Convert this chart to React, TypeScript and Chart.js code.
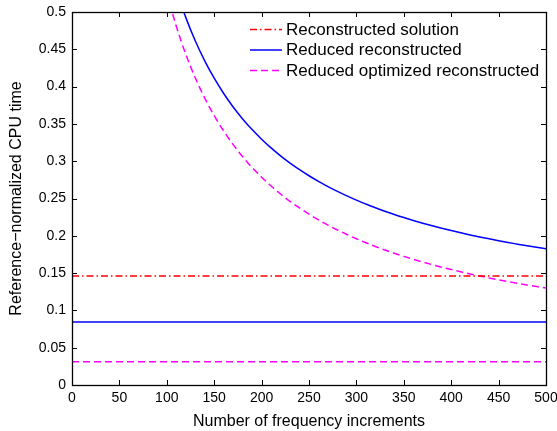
import React, { useEffect, useRef } from "react";
import { Chart, registerables } from "chart.js";

Chart.register(...registerables);

// Number of frequency increments (x) for the decaying curves
const freqIncrements = [
  100, 110, 120, 130, 140, 150, 160, 170, 180, 190, 200, 210, 220, 230, 240,
  250, 260, 270, 280, 290, 300, 310, 320, 330, 340, 350, 360, 370, 380, 390,
  400, 410, 420, 430, 440, 450, 460, 470, 480, 490, 500,
];

// Reduced reconstructed (blue solid curve)
const reducedReconstructed = [
  0.5745, 0.53, 0.4928, 0.4614, 0.4345, 0.4112, 0.3908, 0.3727, 0.3567, 0.3424,
  0.3295, 0.3178, 0.3072, 0.2975, 0.2887, 0.2805, 0.273, 0.266, 0.2595, 0.2535,
  0.2478, 0.2426, 0.2376, 0.233, 0.2286, 0.2245, 0.2206, 0.2169, 0.2134, 0.2101,
  0.207, 0.204, 0.2012, 0.1985, 0.1959, 0.1934, 0.191, 0.1888, 0.1866, 0.1845,
  0.1825,
];

// Reduced optimized reconstructed (magenta dashed curve)
const reducedOptimized = [
  0.526, 0.481, 0.4435, 0.4118, 0.3846, 0.361, 0.3404, 0.3222, 0.306, 0.2915,
  0.2785, 0.2667, 0.256, 0.2462, 0.2373, 0.229, 0.2214, 0.2143, 0.2078, 0.2017,
  0.196, 0.1907, 0.1857, 0.181, 0.1766, 0.1724, 0.1685, 0.1648, 0.1613, 0.1579,
  0.1548, 0.1517, 0.1489, 0.1461, 0.1435, 0.141, 0.1386, 0.1363, 0.1341, 0.132,
  0.13,
];

// Horizontal reference levels spanning the full x range
const levelX = [0, 500];
const reconstructedSolutionLevel = [0.146, 0.146];
const reducedReconstructedLevel = [0.0845, 0.0845];
const reducedOptimizedLevel = [0.031, 0.031];

const xTicks = [0, 50, 100, 150, 200, 250, 300, 350, 400, 450, 500];
const yTicks = [0, 0.05, 0.1, 0.15, 0.2, 0.25, 0.3, 0.35, 0.4, 0.45, 0.5];

const legendLabels = [
  "Reconstructed solution",
  "Reduced reconstructed",
  "Reduced optimized reconstructed",
];

const RED = "#ff0000";
const BLUE = "#0000ff";
const MAGENTA = "#ff00ff";
const DASH_DOT = [7, 3, 1.5, 3];
const DASHED = [7, 4];

const zip = (xs: number[], ys: number[]) => xs.map((x, i) => ({ x, y: ys[i] }));

const framePlugin = {
  id: "matlabFrame",
  afterDraw(chart: any) {
    const { ctx, chartArea } = chart;
    const { left, right, top, bottom } = chartArea;
    const xs = chart.scales.x;
    const ys = chart.scales.y;
    const tl = 5;
    ctx.save();
    ctx.strokeStyle = "#000";
    ctx.lineWidth = 1;
    ctx.beginPath();
    xTicks.forEach((v) => {
      const px = Math.round(xs.getPixelForValue(v)) + 0.5;
      ctx.moveTo(px, bottom);
      ctx.lineTo(px, bottom - tl);
      ctx.moveTo(px, top);
      ctx.lineTo(px, top + tl);
    });
    yTicks.forEach((v) => {
      const py = Math.round(ys.getPixelForValue(v)) + 0.5;
      ctx.moveTo(left, py);
      ctx.lineTo(left + tl, py);
      ctx.moveTo(right, py);
      ctx.lineTo(right - tl, py);
    });
    ctx.stroke();
    ctx.lineWidth = 1.3;
    ctx.strokeRect(Math.round(left) + 0.5, Math.round(top) + 0.5, Math.round(right - left), Math.round(bottom - top));

    // legend
    const styles = [
      { color: RED, dash: DASH_DOT },
      { color: BLUE, dash: [] as number[] },
      { color: MAGENTA, dash: DASHED },
    ];
    ctx.font = "17px 'Liberation Sans', Arial, sans-serif";
    ctx.textBaseline = "middle";
    ctx.textAlign = "left";
    legendLabels.forEach((label, i) => {
      const y = top + 17.5 + i * 20.5;
      const x0 = right - 296;
      const x1 = right - 264;
      ctx.strokeStyle = styles[i].color;
      ctx.lineWidth = 1.5;
      ctx.setLineDash(styles[i].dash);
      ctx.beginPath();
      ctx.moveTo(x0, y);
      ctx.lineTo(x1, y);
      ctx.stroke();
      ctx.setLineDash([]);
      ctx.fillStyle = "#000";
      ctx.fillText(label, right - 260, y + 0.5);
    });
    ctx.restore();
  },
};

export default function App() {
  const ref = useRef<HTMLCanvasElement>(null);
  useEffect(() => {
    const canvas = ref.current;
    if (!canvas) return;
    const tickFont = { family: "'Liberation Sans', Arial, sans-serif", size: 14 };
    const titleFont = { family: "'Liberation Sans', Arial, sans-serif", size: 16 };
    const chart = new Chart(canvas, {
      type: "line",
      data: {
        datasets: [
          {
            label: legendLabels[0],
            data: zip(levelX, reconstructedSolutionLevel),
            borderColor: RED,
            borderDash: DASH_DOT,
            borderWidth: 1.5,
            pointRadius: 0,
          },
          {
            label: legendLabels[1],
            data: zip(freqIncrements, reducedReconstructed),
            borderColor: BLUE,
            borderWidth: 1.5,
            pointRadius: 0,
            cubicInterpolationMode: "monotone",
          },
          {
            label: legendLabels[1] + " (level)",
            data: zip(levelX, reducedReconstructedLevel),
            borderColor: BLUE,
            borderWidth: 1.5,
            pointRadius: 0,
          },
          {
            label: legendLabels[2],
            data: zip(freqIncrements, reducedOptimized),
            borderColor: MAGENTA,
            borderDash: DASHED,
            borderWidth: 1.5,
            pointRadius: 0,
            cubicInterpolationMode: "monotone",
          },
          {
            label: legendLabels[2] + " (level)",
            data: zip(levelX, reducedOptimizedLevel),
            borderColor: MAGENTA,
            borderDash: DASHED,
            borderWidth: 1.5,
            pointRadius: 0,
          },
        ],
      },
      options: {
        animation: false,
        responsive: false,
        devicePixelRatio: 1,
        layout: { padding: { top: 12, right: 11, left: 0, bottom: 0 } },
        plugins: {
          legend: { display: false },
          tooltip: { enabled: false },
        },
        scales: {
          x: {
            type: "linear",
            min: 0,
            max: 500,
            grid: { display: false, drawTicks: false },
            border: { display: false },
            ticks: {
              stepSize: 50,
              color: "#000",
              font: tickFont,
              padding: 5,
              maxRotation: 0,
              callback: (v: any) => String(v),
            },
            title: {
              display: true,
              text: "Number of frequency increments",
              color: "#000",
              font: titleFont,
              padding: { top: 0, bottom: 0 },
            },
            afterFit: (s: any) => {
              s.height = 46;
              s.paddingLeft = 0;
              s.paddingRight = 0;
            },
          },
          y: {
            type: "linear",
            min: 0,
            max: 0.5,
            grid: { display: false, drawTicks: false },
            border: { display: false },
            ticks: {
              stepSize: 0.05,
              color: "#000",
              font: tickFont,
              padding: 6,
              callback: (v: any) => String(Number(Number(v).toFixed(2))),
            },
            title: {
              display: true,
              text: "Reference\u2212normalized CPU time",
              color: "#000",
              font: titleFont,
              padding: { top: 7, bottom: 0 },
            },
            afterFit: (s: any) => {
              s.width = 72;
              s.paddingTop = 0;
              s.paddingBottom = 0;
            },
          },
        },
      },
      plugins: [framePlugin],
    });
    return () => chart.destroy();
  }, []);
  return (
    <div style={{ position: "absolute", left: 0, top: 0, width: 557, height: 431, background: "#fff" }}>
      <canvas ref={ref} width={557} height={431} style={{ display: "block" }} />
    </div>
  );
}
